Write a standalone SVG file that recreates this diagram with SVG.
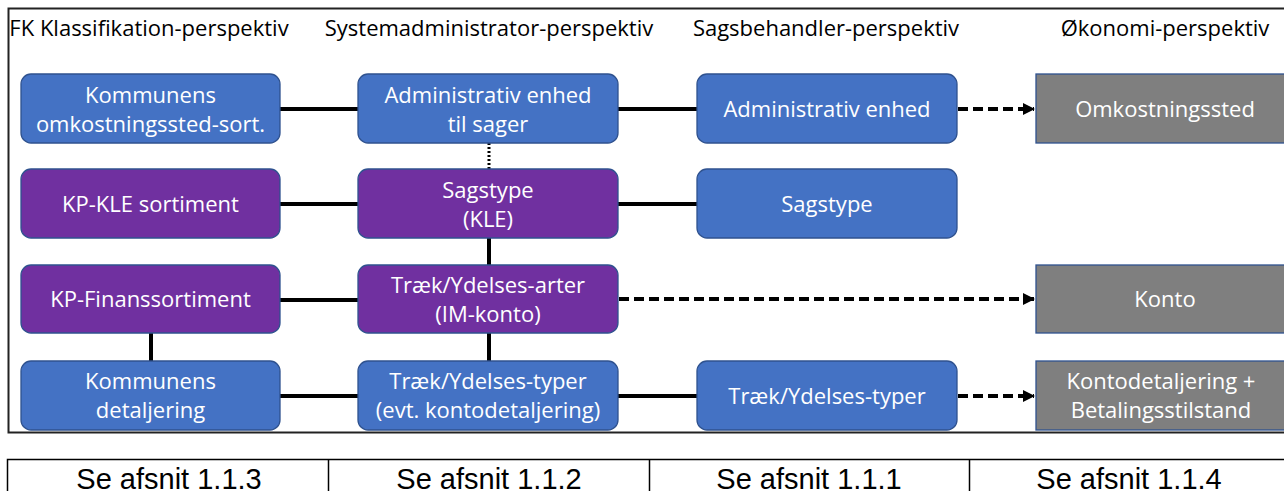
<svg xmlns="http://www.w3.org/2000/svg" width="1284" height="491" viewBox="0 0 1284 491">
<defs>
<style>
.hdr{font-family:"Open Sans","Noto Sans",sans-serif;font-size:22px;fill:#000;text-anchor:middle}
.bt{font-family:"Open Sans","Noto Sans",sans-serif;font-size:22px;fill:#fff;text-anchor:middle}
.blue{fill:#4472c4;stroke:#2f528f;stroke-width:1.3}
.purple{fill:#7030a0;stroke:#2f528f;stroke-width:1.3}
.gray{fill:#7f7f7f;stroke:#2f528f;stroke-width:1.3}
.ln{stroke:#000;stroke-width:4;fill:none}
.dash{stroke:#000;stroke-width:4;fill:none;stroke-dasharray:10 5}
.dot{stroke:#000;stroke-width:3;fill:none;stroke-dasharray:2 2}
.tbl{font-family:"Liberation Sans",Arial,sans-serif;font-size:29px;fill:#000;text-anchor:middle}
</style>
<marker id="ah" markerWidth="12" markerHeight="12" refX="11" refY="6" orient="auto" markerUnits="userSpaceOnUse">
<path d="M0,0 L12,6 L0,12 Z" fill="#000"/>
</marker>
</defs>
<rect x="0" y="0" width="1284" height="491" fill="#fff"/>
<rect x="8.5" y="8.5" width="1280" height="424" fill="none" stroke="#222" stroke-width="2"/>
<g id="headers">
<text class="hdr" x="149" y="36">FK Klassifikation-perspektiv</text>
<text class="hdr" x="489" y="36">Systemadministrator-perspektiv</text>
<text class="hdr" x="826" y="36">Sagsbehandler-perspektiv</text>
<text class="hdr" x="1165" y="36">Økonomi-perspektiv</text>
</g>
<g id="connectors">
<line class="ln" x1="280" y1="109" x2="358" y2="109"/>
<line class="ln" x1="618" y1="109" x2="697" y2="109"/>
<line class="dash" x1="958" y1="109" x2="1034" y2="109" marker-end="url(#ah)"/>
<line class="dot" x1="489" y1="143" x2="489" y2="169"/>
<line class="ln" x1="280" y1="204" x2="358" y2="204"/>
<line class="ln" x1="618" y1="204" x2="697" y2="204"/>
<line class="ln" x1="489" y1="238" x2="489" y2="265"/>
<line class="ln" x1="280" y1="300" x2="358" y2="300"/>
<line class="dash" x1="619" y1="299" x2="1034" y2="299" marker-end="url(#ah)"/>
<line class="ln" x1="489" y1="333" x2="489" y2="361"/>
<line class="ln" x1="151" y1="333" x2="151" y2="361"/>
<line class="ln" x1="280" y1="396" x2="358" y2="396"/>
<line class="ln" x1="618" y1="396" x2="697" y2="396"/>
<line class="dash" x1="958" y1="396" x2="1034" y2="396" marker-end="url(#ah)"/>
</g>
<g id="n-kommunens-omk">
<rect class="blue" x="21" y="74" width="259" height="69" rx="10"/>
<text class="bt" x="150.5" y="103">Kommunens</text>
<text class="bt" x="150.5" y="132">omkostningssted-sort.</text>
</g>
<g id="n-adm-sager">
<rect class="blue" x="358" y="74" width="260" height="69" rx="10"/>
<text class="bt" x="488" y="103">Administrativ enhed</text>
<text class="bt" x="488" y="132">til sager</text>
</g>
<g id="n-adm-enhed">
<rect class="blue" x="697" y="74" width="260" height="69" rx="10"/>
<text class="bt" x="827" y="117">Administrativ enhed</text>
</g>
<g id="n-omkostningssted">
<rect class="gray" x="1036" y="74" width="260" height="69"/>
<text class="bt" x="1165" y="117">Omkostningssted</text>
</g>
<g id="n-kp-kle">
<rect class="purple" x="21" y="169" width="259" height="69" rx="10"/>
<text class="bt" x="150.5" y="212">KP-KLE sortiment</text>
</g>
<g id="n-sagstype-kle">
<rect class="purple" x="358" y="169" width="260" height="69" rx="10"/>
<text class="bt" x="488" y="198">Sagstype</text>
<text class="bt" x="488" y="227">(KLE)</text>
</g>
<g id="n-sagstype">
<rect class="blue" x="697" y="169" width="260" height="69" rx="10"/>
<text class="bt" x="827" y="212">Sagstype</text>
</g>
<g id="n-kp-finans">
<rect class="purple" x="21" y="265" width="259" height="68" rx="10"/>
<text class="bt" x="150.5" y="307">KP-Finanssortiment</text>
</g>
<g id="n-arter">
<rect class="purple" x="358" y="265" width="260" height="68" rx="10"/>
<text class="bt" x="488" y="293">Træk/Ydelses-arter</text>
<text class="bt" x="488" y="322">(IM-konto)</text>
</g>
<g id="n-konto">
<rect class="gray" x="1036" y="265" width="260" height="68"/>
<text class="bt" x="1165" y="307">Konto</text>
</g>
<g id="n-kommunens-det">
<rect class="blue" x="21" y="361" width="259" height="69" rx="10"/>
<text class="bt" x="150.5" y="389">Kommunens</text>
<text class="bt" x="150.5" y="418">detaljering</text>
</g>
<g id="n-typer-evt">
<rect class="blue" x="358" y="361" width="260" height="69" rx="10"/>
<text class="bt" x="488" y="389">Træk/Ydelses-typer</text>
<text class="bt" x="488" y="418">(evt. kontodetaljering)</text>
</g>
<g id="n-typer">
<rect class="blue" x="697" y="361" width="260" height="69" rx="10"/>
<text class="bt" x="827" y="404">Træk/Ydelses-typer</text>
</g>
<g id="n-kontodet">
<rect class="gray" x="1036" y="361" width="260" height="69"/>
<text class="bt" x="1161" y="389">Kontodetaljering +</text>
<text class="bt" x="1161" y="418">Betalingsstilstand</text>
</g>
<g id="table">
<rect x="7.5" y="459.5" width="1290" height="60" fill="none" stroke="#000" stroke-width="1.5"/>
<line x1="328.5" y1="459" x2="328.5" y2="491" stroke="#000" stroke-width="1.5"/>
<line x1="649.5" y1="459" x2="649.5" y2="491" stroke="#000" stroke-width="1.5"/>
<line x1="969.5" y1="459" x2="969.5" y2="491" stroke="#000" stroke-width="1.5"/>
<text class="tbl" x="169" y="489">Se afsnit 1.1.3</text>
<text class="tbl" x="489" y="489">Se afsnit 1.1.2</text>
<text class="tbl" x="809" y="489">Se afsnit 1.1.1</text>
<text class="tbl" x="1129" y="489">Se afsnit 1.1.4</text>
</g>
</svg>
